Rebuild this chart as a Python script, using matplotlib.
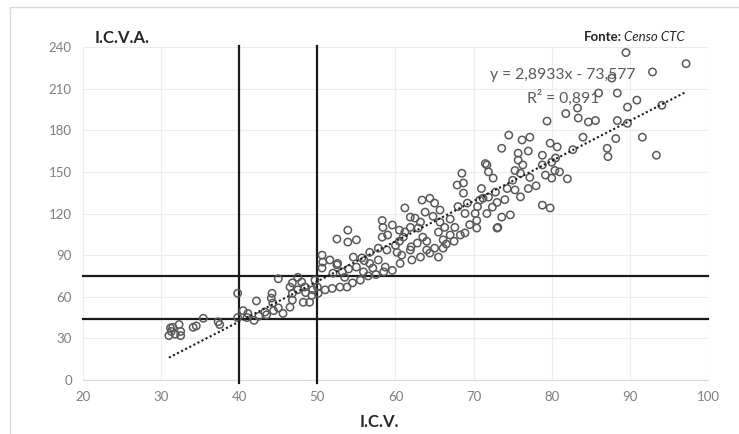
import numpy as np
import matplotlib
matplotlib.use("Agg")
import matplotlib.pyplot as plt
from matplotlib.patches import Rectangle

plt.rcParams['font.family'] = ['Lato', 'DejaVu Sans']

# scatter points (I.C.V., I.C.V.A.)
icv = [31.0, 31.3, 31.5, 32.3, 32.5, 31.8, 32.5, 31.2, 34.1, 34.5, 35.4, 37.3, 37.5,
       39.8, 39.8, 40.5, 41.1, 41.0, 41.9, 42.2, 43.3, 44.2, 44.1, 44.3, 44.4, 45.0, 45.6,
       46.5, 46.5, 46.8, 46.8, 46.8, 47.5, 48.0, 48.2, 48.4, 49.0, 49.3, 49.4, 49.7, 43.5,
       45.0, 47.5, 48.5, 42.5,
       50.6, 50.7, 51.6, 50.6, 52.5, 52.0, 53.2, 53.5, 53.8, 52.9, 51.9, 51.0, 50.1, 50.0,
       52.5, 53.9, 53.9, 55.0, 52.6, 54.6, 55.7, 56.7, 58.3, 58.4, 58.3, 59.6, 59.0, 57.8,
       58.9, 60.0, 57.8, 56.7, 55.0, 55.9, 57.1, 58.7, 59.6, 54.5, 55.5, 56.5, 57.5, 58.5,
       54.0, 56.0,
       60.2, 60.6, 60.8, 61.2, 61.9, 61.9, 61.2, 62.5, 63.2, 62.9, 63.4, 64.4, 63.5, 62.8,
       61.9, 62.1, 63.2, 64.0, 64.4, 65.0, 65.5, 65.0, 65.7, 65.7, 65.5, 66.3, 67.0, 67.6,
       68.3, 68.9, 66.1, 66.1, 67.9, 68.5, 68.7, 68.7, 69.2, 68.9, 60.5, 61.0, 62.0, 64.0,
       66.5, 67.5, 69.5, 60.5, 63.8, 64.8, 67.0, 68.0,
       70.2, 70.4, 70.4, 71.7, 72.4, 73.0, 71.7, 71.9, 72.5, 71.9, 71.2, 72.8, 73.0, 74.5,
       76.2, 77.2, 73.6, 75.7, 77.0, 79.8, 71.5, 75.7, 76.3, 75.3, 76.0, 77.2, 78.8, 78.8,
       80.0, 79.2, 80.0, 75.0, 74.3, 75.3, 77.0, 70.8, 78.8, 79.8, 73.6, 74.7, 73.1, 79.4,
       70.5, 71.0, 74.0, 76.0, 78.0,
       83.3, 81.8, 83.4, 84.7, 85.6, 80.7, 82.7, 84.0, 80.4, 89.5, 97.2, 92.9, 87.7, 86.0,
       88.4, 89.7, 90.9, 94.1, 88.4, 89.7, 88.2, 91.6, 87.1, 87.2, 93.4, 81.0, 80.5, 82.0]
icva = [32, 35, 38, 40, 35, 33, 32, 37.5, 38, 39, 44.5, 42, 40,
        62.5, 45, 50, 48, 45, 43, 57, 49, 62.5, 59, 55.5, 50, 73, 48,
        52.5, 67, 62.5, 57.6, 70, 74, 70.6, 56, 67, 56, 61, 65, 72, 47,
        52, 65, 63, 46,
        90, 85, 86.5, 80.7, 83, 77, 78, 74, 67, 67, 66, 65, 62.5, 67,
        101.6, 108, 99.4, 101, 84, 88.6, 88, 92, 115, 110, 103, 111.7, 104.5, 95,
        93.7, 97, 86.5, 84, 81.4, 78, 80.7, 81.4, 79, 70, 72, 75, 76, 78,
        80, 86,
        92, 84, 90, 124, 117.4, 110, 106.6, 116.7, 113.8, 109.5, 129.7, 131, 103, 98.7,
        93.7, 86.5, 88.6, 93.7, 91.5, 95, 88.6, 127.5, 122.5, 113.8, 106.6, 110, 104.5, 110,
        104.5, 106, 101, 95, 140.5, 149, 142, 134.7, 127.5, 120, 100, 103, 96, 100,
        98, 100, 112, 108, 121, 118, 116, 125,
        120, 115, 109.5, 120, 124.6, 128, 155, 150, 145.5, 131.8, 131, 135.4, 109.5, 176.5,
        173, 175, 167, 163.5, 165, 170.7, 156, 158.5, 155, 151, 149, 146, 162, 155,
        157, 147.7, 145.5, 144, 138, 137, 138, 129.7, 126, 124, 117.4, 119, 110, 186.6,
        125, 138, 130, 132, 140,
        196, 192, 188.8, 186, 187, 168, 166, 175, 151, 236, 228, 222, 217.6, 206.8,
        206.8, 196.7, 201.7, 198, 187, 185, 174, 175, 167, 161, 162, 150, 160, 145]

slope = 2.8933
intercept = -73.577
trend_x = [31, 97]
x_cuts = [40, 50]
y_cuts = [44, 75]

fig = plt.figure(figsize=(7.39, 4.34), dpi=100)
fig.patches.append(Rectangle((10 / 739, -0.01), 1.0, 1 - 7 / 434 + 0.01,
                             transform=fig.transFigure, fill=False,
                             edgecolor='#d9d9d9', linewidth=1.0))
ax = fig.add_axes([0.1123, 0.1244, 0.8457, 0.7673])

ax.set_xlim(20, 100)
ax.set_ylim(0, 240)
ax.set_xticks(np.arange(20, 101, 10))
ax.set_yticks(np.arange(0, 241, 30))
ax.grid(True, color='#ececec', linewidth=0.8)
ax.set_axisbelow(True)
for s in ['top', 'right', 'left']:
    ax.spines[s].set_visible(False)
ax.spines['bottom'].set_color('#e0d8d8')
ax.tick_params(length=0, colors='#7f7f7f', labelsize=9.5, pad=8)

# reference lines
for xc in x_cuts:
    ax.plot([xc, xc], [-2, 241], color='#1a1a1a', linewidth=1.6, clip_on=False, zorder=3)
for yc in y_cuts:
    ax.plot([20, 100], [yc, yc], color='#1a1a1a', linewidth=1.6, clip_on=False, zorder=3)

ax.scatter(icv, icva, s=28, facecolors='none', edgecolors='#595959',
           linewidths=1.1, zorder=4)

tx = np.array(trend_x)
ax.plot(tx, slope * tx + intercept, linestyle=(0, (1, 1.2)), color='#1a1a1a',
        linewidth=1.5, zorder=5)

fig.text(0.762, 0.827, 'y = 2,8933x - 73,577', ha='center', va='center',
         fontsize=11.3, color='#595959')
fig.text(0.762, 0.774, 'R² = 0,891', ha='center', va='center',
         fontsize=11.3, color='#595959')

fig.text(0.1286, 0.912, 'I.C.V.A.', ha='left', va='center', fontsize=12,
         fontweight='bold', color='#262626')
fig.text(0.514, 0.028, 'I.C.V.', ha='center', va='center', fontsize=12,
         fontweight='bold', color='#262626')
fig.text(0.841, 0.915, 'Fonte:', ha='right', va='center', fontsize=9.5,
         fontweight='bold', color='#262626')
fig.text(0.844, 0.915, 'Censo CTC', ha='left', va='center', fontsize=9.5,
         fontstyle='italic', color='#262626')

fig.savefig('out.png', dpi=100)
